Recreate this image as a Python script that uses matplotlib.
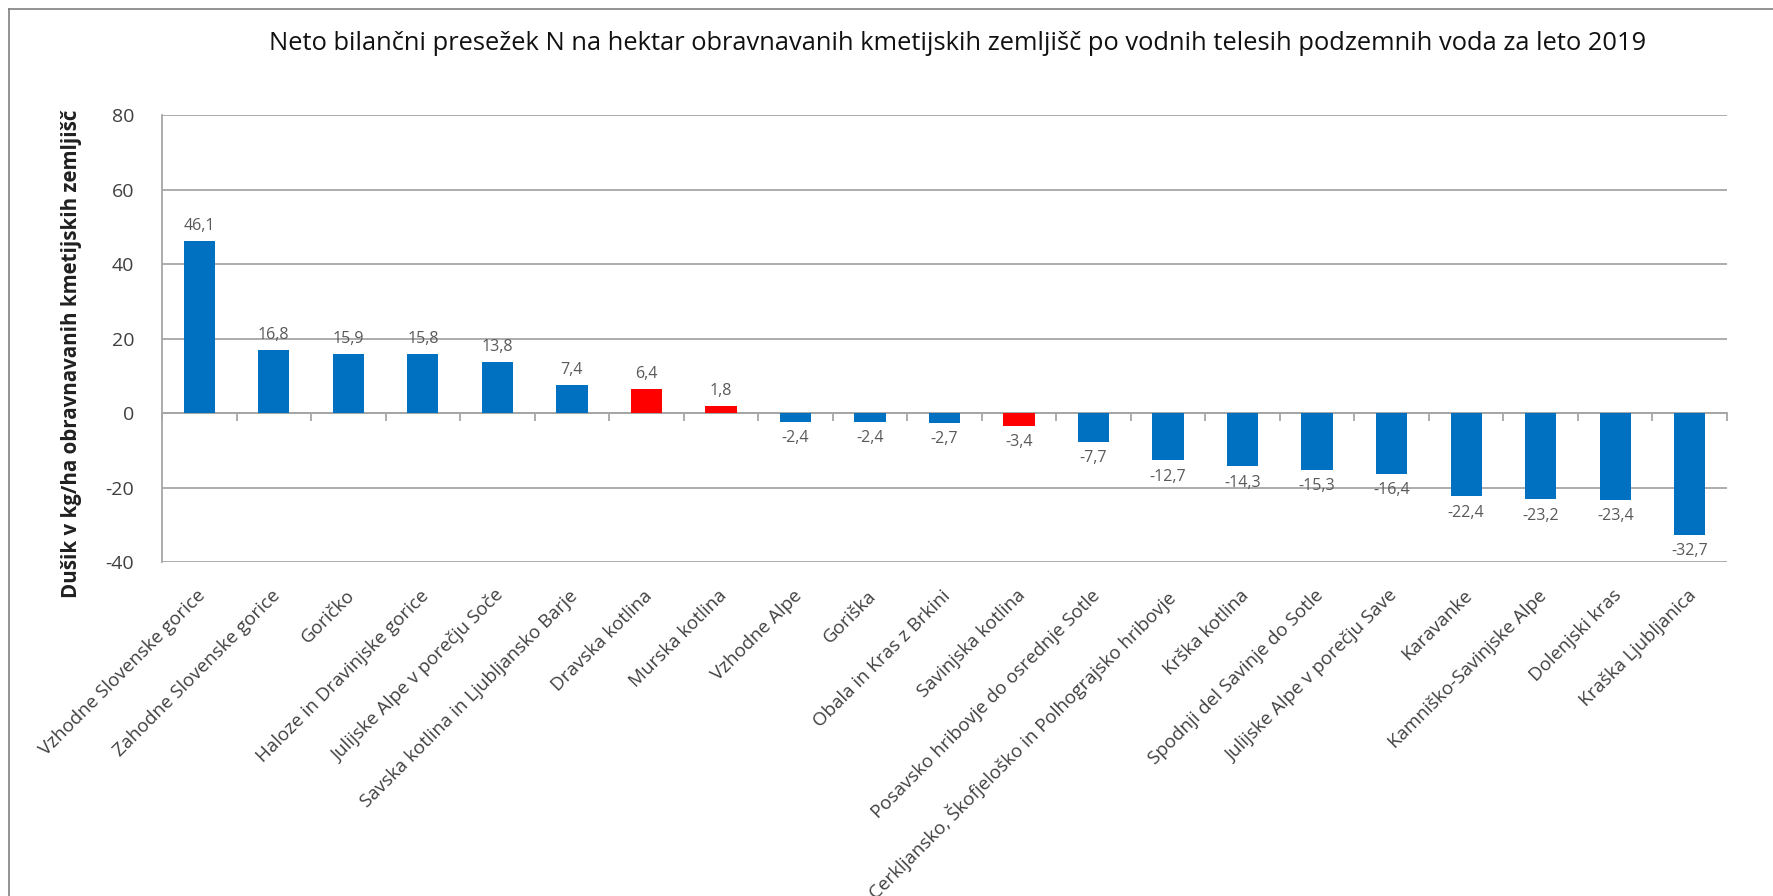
import matplotlib
matplotlib.use("Agg")
import matplotlib.pyplot as plt
import matplotlib.transforms as mtransforms
from matplotlib.lines import Line2D
import numpy as np

plt.rcParams['font.family'] = ['Open Sans', 'DejaVu Sans']

categories = [
    "Vzhodne Slovenske gorice", "Zahodne Slovenske gorice", "Goričko",
    "Haloze in Dravinjske gorice", "Julijske Alpe v porečju Soče",
    "Savska kotlina in Ljubljansko Barje", "Dravska kotlina", "Murska kotlina",
    "Vzhodne Alpe", "Goriška", "Obala in Kras z Brkini", "Savinjska kotlina",
    "Posavsko hribovje do osrednje Sotle",
    "Cerkljansko, Škofjeloško in Polhograjsko hribovje", "Krška kotlina",
    "Spodnji del Savinje do Sotle", "Julijske Alpe v porečju Save",
    "Karavanke", "Kamniško-Savinjske Alpe", "Dolenjski kras", "Kraška Ljubljanica",
]
values = [46.1, 16.8, 15.9, 15.8, 13.8, 7.4, 6.4, 1.8, -2.4, -2.4, -2.7, -3.4,
          -7.7, -12.7, -14.3, -15.3, -16.4, -22.4, -23.2, -23.4, -32.7]
highlight = ["Dravska kotlina", "Murska kotlina", "Savinjska kotlina"]
yticks = [-40, -20, 0, 20, 40, 60, 80]

title = "Neto bilančni presežek N na hektar obravnavanih kmetijskih zemljišč po vodnih telesih podzemnih voda za leto 2019"
ylabel = "Dušik v kg/ha obravnavanih kmetijskih zemljišč"

blue = "#0070C0"
red = "#FF0000"
grid_c = "#A6A6A6"

fig = plt.figure(figsize=(17.73, 8.96), dpi=100)
ax = fig.add_axes([162 / 1773, 1 - 562 / 896, (1727 - 162) / 1773, (562 - 115) / 896])

x = np.arange(len(categories))
colors = [red if c in highlight else blue for c in categories]
ax.bar(x, values, width=0.42, color=colors, zorder=3)

ax.set_xlim(-0.5, len(categories) - 0.5)
ax.set_ylim(-40, 80)
ax.set_yticks(yticks)
ax.set_yticklabels([str(t) for t in yticks], fontsize=14, color="#404040")
ax.tick_params(axis='y', length=0, pad=20)
ax.grid(axis='y', color=grid_c, linewidth=1.3, zorder=0)

for s in ['top', 'right']:
    ax.spines[s].set_visible(False)
ax.spines['left'].set_color(grid_c)
ax.spines['left'].set_linewidth(1.3)
ax.spines['bottom'].set_position(('data', 0))
ax.spines['bottom'].set_color(grid_c)
ax.spines['bottom'].set_linewidth(1.3)
ax.set_xticks(x)
ax.set_xticklabels([])
ax.tick_params(axis='x', which='major', length=0)
ax.set_xticks(np.arange(len(categories) + 1) - 0.5, minor=True)
ax.tick_params(axis='x', which='minor', length=6, color=grid_c, width=1.3, direction='out')

# data labels
for xi, v in zip(x, values):
    lbl = f"{v:.1f}".replace(".", ",")
    if v >= 0:
        ax.annotate(lbl, (xi, v), xytext=(0, 5), textcoords='offset points',
                    ha='center', va='bottom', fontsize=11.5, color="#595959")
    else:
        ax.annotate(lbl, (xi, v), xytext=(0, -6), textcoords='offset points',
                    ha='center', va='top', fontsize=11.5, color="#595959")

# category labels below the plot
trans = mtransforms.blended_transform_factory(ax.transData, ax.transAxes)
for xi, c in zip(x, categories):
    ax.text(xi - 0.04, -0.055, c, transform=trans, rotation=45, ha='right', va='top',
            rotation_mode='anchor', fontsize=13.5, color="#404040")

ax.set_ylabel(ylabel, fontsize=14.8, fontweight='bold', color="#202020")
ax.yaxis.set_label_coords(-0.051, 0.465)

fig.text(0.54, 1 - 43 / 896, title, ha='center', va='center', fontsize=18.4, color="#111111")

# outer chart border (left and top)
fig.add_artist(Line2D([9 / 1773, 9 / 1773], [0, 1 - 9 / 896], transform=fig.transFigure,
                      color="#808080", linewidth=1.2))
fig.add_artist(Line2D([9 / 1773, 1], [1 - 9 / 896, 1 - 9 / 896], transform=fig.transFigure,
                      color="#808080", linewidth=1.2))

fig.savefig("out.png", dpi=100)
